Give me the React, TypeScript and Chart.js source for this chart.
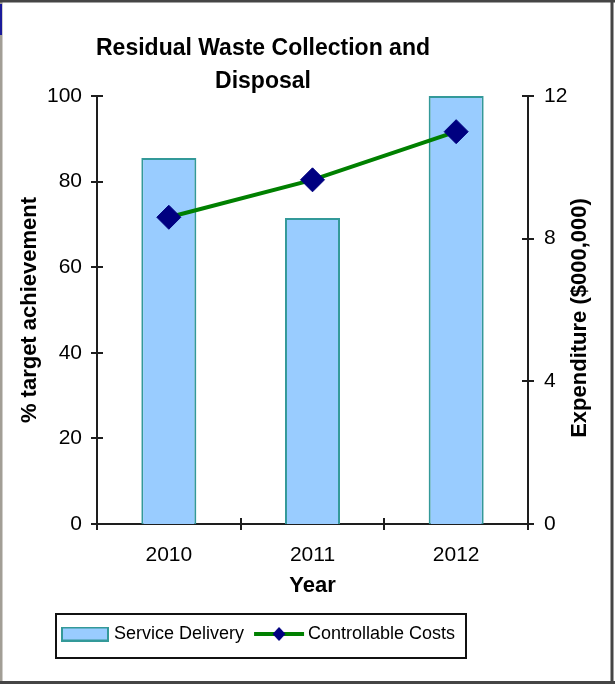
import React, { useEffect, useRef } from 'react';
import { Chart, registerables } from 'chart.js';

Chart.register(...registerables);

// ---- data ----
const categories = ['2010', '2011', '2012'];
const serviceDelivery = [85.5, 71.5, 100];
const controllableCosts = [8.6, 9.65, 11.0];
const leftTickValues = [0, 20, 40, 60, 80, 100];
const rightTickValues = [0, 4, 8, 12];
const chartTitle = ['Residual Waste Collection and', 'Disposal'];
const seriesNames = ['Service Delivery', 'Controllable Costs'];
const xAxisTitle = 'Year';
const leftAxisTitle = '% target achievement';
const rightAxisTitle = 'Expenditure ($000,000)';

// ---- styles ----
const FONT = "'Liberation Sans', Arial, Helvetica, sans-serif";
const BAR_FILL = '#99CCFF';
const BAR_BORDER = '#339999';
const LINE_COLOR = '#008000';
const MARKER = '#000080';
const AXIS = '#1e1e1e';

function makeBarSwatch() {
  const c = document.createElement('canvas');
  c.width = 48;
  c.height = 15;
  const g = c.getContext('2d')!;
  g.fillStyle = BAR_FILL;
  g.fillRect(1, 1, 46, 13);
  g.strokeStyle = BAR_BORDER;
  g.lineWidth = 2;
  g.strokeRect(1, 1, 46, 13);
  return c;
}

function makeLineSwatch() {
  const c = document.createElement('canvas');
  c.width = 52;
  c.height = 16;
  const g = c.getContext('2d')!;
  g.strokeStyle = LINE_COLOR;
  g.lineWidth = 4;
  g.beginPath();
  g.moveTo(1, 8);
  g.lineTo(51, 8);
  g.stroke();
  g.fillStyle = MARKER;
  g.beginPath();
  g.moveTo(26 - 6.5, 8);
  g.lineTo(26, 8 - 7);
  g.lineTo(26 + 6.5, 8);
  g.lineTo(26, 8 + 7);
  g.closePath();
  g.fill();
  return c;
}

const layoutTweaks = {
  id: 'layoutTweaks',
  afterLayout(chart: any) {
    const t = chart.titleBlock;
    if (t) {
      t.left = 0;
      t.right = 526;
    }
    const lg = chart.legend;
    if (lg) {
      lg.left = 50;
    }
  },
};

const decorations = {
  id: 'decorations',
  beforeDraw(chart: any) {
    const { ctx, width, height } = chart;
    ctx.save();
    ctx.fillStyle = '#ffffff';
    ctx.fillRect(0, 0, width, height);
    ctx.restore();
  },
  afterDraw(chart: any) {
    const { ctx, chartArea, scales } = chart;
    const L = chartArea.left;
    const R = chartArea.right;
    const B = chartArea.bottom;
    ctx.save();
    // crossing tick marks
    ctx.strokeStyle = AXIS;
    ctx.lineWidth = 2;
    ctx.beginPath();
    scales.y.ticks.forEach((t: any) => {
      const p = Math.round(scales.y.getPixelForValue(t.value));
      ctx.moveTo(L - 6, p);
      ctx.lineTo(L + 6, p);
    });
    scales.y1.ticks.forEach((t: any) => {
      const p = Math.round(scales.y1.getPixelForValue(t.value));
      ctx.moveTo(R - 6, p);
      ctx.lineTo(R + 6, p);
    });
    for (let i = 0; i <= categories.length; i++) {
      const p = Math.round(scales.x.getPixelForValue(i - 0.5));
      ctx.moveTo(p, B - 6);
      ctx.lineTo(p, B + 6);
    }
    ctx.stroke();

    // right axis title (reads bottom to top)
    ctx.font = `bold 22px ${FONT}`;
    ctx.fillStyle = '#000';
    ctx.textAlign = 'center';
    ctx.textBaseline = 'middle';
    ctx.translate(579.5, (chartArea.top + chartArea.bottom) / 2 + 8);
    ctx.rotate(-Math.PI / 2);
    ctx.fillText(rightAxisTitle, 0, 0);
    ctx.restore();

    // legend border
    const lg = chart.legend;
    ctx.save();
    ctx.strokeStyle = '#111';
    ctx.lineWidth = 2;
    ctx.strokeRect(lg.left + 6, lg.top + 4, 410, 44);
    ctx.restore();

    // outer frame
    ctx.save();
    ctx.fillStyle = '#a29e96';
    ctx.fillRect(0, 0, 2.5, 684);
    ctx.fillStyle = '#454545';
    ctx.fillRect(0, 0, 615, 2.5);
    ctx.fillRect(610.5, 0, 3, 684);
    ctx.fillRect(0, 681, 615, 3);
    ctx.fillStyle = '#1a1a9a';
    ctx.fillRect(0, 4, 2, 31);
    ctx.restore();
  },
};

export default function App() {
  const ref = useRef<HTMLCanvasElement | null>(null);

  useEffect(() => {
    if (!ref.current) return;
    const barSwatch = makeBarSwatch();
    const lineSwatch = makeLineSwatch();
    Chart.defaults.color = '#000';

    const chart = new Chart(ref.current, {
      type: 'bar',
      data: {
        labels: categories,
        datasets: [
          {
            type: 'bar',
            label: seriesNames[0],
            data: serviceDelivery,
            yAxisID: 'y',
            backgroundColor: BAR_FILL,
            borderColor: BAR_BORDER,
            borderWidth: 2,
            barPercentage: 0.383,
            categoryPercentage: 1,
            order: 1,
          },
          {
            type: 'line',
            label: seriesNames[1],
            data: controllableCosts,
            yAxisID: 'y1',
            borderColor: LINE_COLOR,
            borderWidth: 4,
            pointStyle: 'rectRot',
            pointRadius: 12,
            pointBackgroundColor: MARKER,
            pointBorderColor: MARKER,
            pointBorderWidth: 1,
            tension: 0,
            order: 0,
          },
        ] as any,
      },
      options: {
        responsive: false,
        maintainAspectRatio: false,
        animation: false,
        devicePixelRatio: 1,
        layout: { padding: { top: 0, left: 0, right: 0, bottom: 31 } },
        plugins: {
          tooltip: { enabled: false },
          title: {
            display: true,
            text: chartTitle,
            color: '#000',
            font: { family: FONT, size: 23, weight: 'bold', lineHeight: 33 / 23 },
            padding: { top: 32, bottom: -2 },
          },
          legend: {
            display: true,
            position: 'bottom',
            align: 'start',
            labels: {
              usePointStyle: true,
              pointStyleWidth: 40,
              padding: 15,
              color: '#000',
              font: { family: FONT, size: 18 },
              generateLabels: () => [
                {
                  text: seriesNames[0],
                  pointStyle: barSwatch,
                  fillStyle: BAR_FILL,
                  strokeStyle: BAR_BORDER,
                  lineWidth: 1,
                  hidden: false,
                  datasetIndex: 0,
                  fontColor: '#000',
                },
                {
                  text: seriesNames[1],
                  pointStyle: lineSwatch,
                  fillStyle: MARKER,
                  strokeStyle: LINE_COLOR,
                  lineWidth: 1,
                  hidden: false,
                  datasetIndex: 1,
                  fontColor: '#000',
                },
              ] as any,
            },
          },
        },
        scales: {
          x: {
            type: 'category',
            offset: true,
            grid: { display: false, drawTicks: false },
            border: { display: true, color: AXIS, width: 2 },
            ticks: {
              font: { family: FONT, size: 21 },
              color: '#000',
              padding: 19,
              maxRotation: 0,
              autoSkip: false,
            },
            title: {
              display: true,
              text: xAxisTitle,
              color: '#000',
              font: { family: FONT, size: 22, weight: 'bold', lineHeight: 1.2 },
              padding: { top: 0, bottom: 11 },
            },
            afterFit: (s: any) => {
              s.height = 86;
            },
          },
          y: {
            type: 'linear',
            position: 'left',
            min: leftTickValues[0],
            max: leftTickValues[leftTickValues.length - 1],
            ticks: {
              stepSize: leftTickValues[1] - leftTickValues[0],
              font: { family: FONT, size: 21 },
              color: '#000',
              padding: 15,
            },
            grid: { display: false, drawTicks: false },
            border: { display: true, color: AXIS, width: 2 },
            title: {
              display: true,
              text: leftAxisTitle,
              color: '#000',
              font: { family: FONT, size: 22, weight: 'bold', lineHeight: 1.2 },
              padding: { top: 17, bottom: 0 },
            },
            afterFit: (s: any) => {
              s.width = 97;
            },
          },
          y1: {
            type: 'linear',
            position: 'right',
            min: rightTickValues[0],
            max: rightTickValues[rightTickValues.length - 1],
            ticks: {
              stepSize: rightTickValues[1] - rightTickValues[0],
              font: { family: FONT, size: 21 },
              color: '#000',
              padding: 16,
            },
            grid: { display: false, drawTicks: false, drawOnChartArea: false },
            border: { display: true, color: AXIS, width: 2 },
            afterFit: (s: any) => {
              s.width = 87;
            },
          },
        },
      } as any,
      plugins: [layoutTweaks, decorations],
    });

    return () => {
      chart.destroy();
    };
  }, []);

  return (
    <div
      style={{
        position: 'fixed',
        left: 0,
        top: 0,
        width: 615,
        height: 684,
        background: '#fff',
      }}
    >
      <canvas
        ref={ref}
        width={615}
        height={684}
        style={{ display: 'block', width: 615, height: 684 }}
      />
    </div>
  );
}
